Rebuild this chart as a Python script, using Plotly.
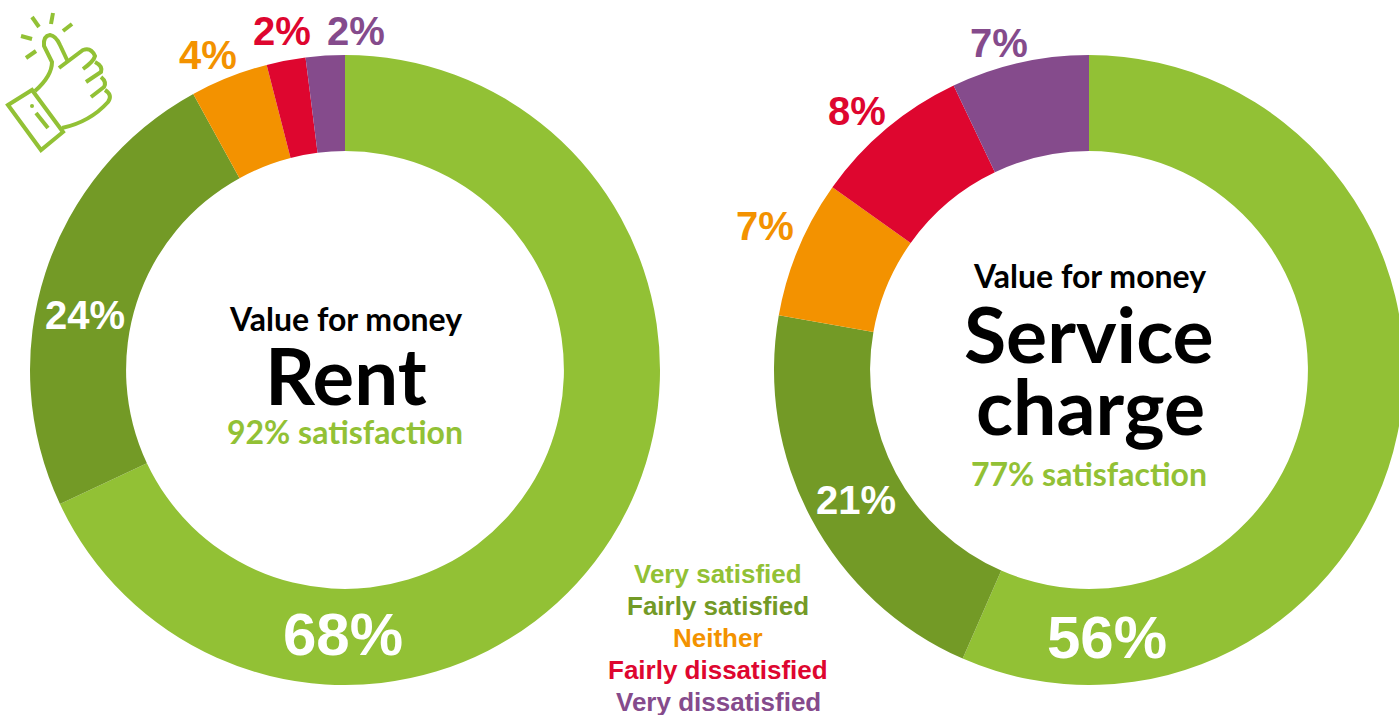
import plotly.graph_objects as go

labels = ["Very satisfied", "Fairly satisfied", "Neither", "Fairly dissatisfied", "Very dissatisfied"]
colors = ["#92C135", "#739A26", "#F39200", "#DE062F", "#854B8C"]
rent = [68, 24, 4, 2, 2]
service = [56, 21, 7, 8, 7]
W, H = 1405, 715
FONT = "Liberation Sans"
DISPLAY = "Lato"

fig = go.Figure()


def dom(cx, cy, r):
    return dict(x=[(cx - r) / W, (cx + r) / W], y=[1 - (cy + r) / H, 1 - (cy - r) / H])


for vals, cx, cy, r in [(rent, 345, 370, 315), (service, 1089, 370, 315)]:
    fig.add_trace(go.Pie(values=vals, labels=labels, hole=0.695, sort=False, direction="clockwise",
                         rotation=0, marker=dict(colors=colors, line=dict(width=0)),
                         textinfo="none", showlegend=False, domain=dom(cx, cy, r)))


def txt(x, y, s, size, color, fam=FONT):
    fig.add_annotation(x=x / W, y=1 - y / H, xref="paper", yref="paper", text=f"<b>{s}</b>",
                       showarrow=False, font=dict(size=size, color=color, family=fam), xanchor="center", yanchor="middle")


for x, y, v, i, s in [(343, 634, rent[0], 0, 60), (85, 315, rent[1], 1, 40), (208, 55, rent[2], 2, 40),
                      (282, 31, rent[3], 3, 40), (356, 31, rent[4], 4, 40),
                      (1107, 637, service[0], 0, 60), (856, 500, service[1], 1, 40), (765, 226, service[2], 2, 40),
                      (857, 111, service[3], 3, 40), (999, 43, service[4], 4, 40)]:
    c = "#FFFFFF" if i < 2 else colors[i]
    txt(x, y, f"{v}%", s, c)

txt(345, 318, "Value for money", 32, "#000000", DISPLAY)
txt(346, 375, "Rent", 78, "#000000", DISPLAY)
txt(345, 431, "92% satisfaction", 32, colors[0], DISPLAY)
txt(1089, 276, "Value for money", 32, "#000000", DISPLAY)
txt(1089, 333, "Service", 77, "#000000", DISPLAY)
txt(1090, 405, "charge", 77, "#000000", DISPLAY)
txt(1089, 473, "77% satisfaction", 32, colors[0], DISPLAY)

for k, (lab, c) in enumerate(zip(labels, colors)):
    txt(718, 574 + k * 32, lab, 26, c)


# Thumbs-up decoration, given in screen pixels
def px(x, y):
    return f"{x / W:.5f},{1 - y / H:.5f}"


icon_paths = [
    [("M", 8, 105), ("L", 32, 90), ("L", 63, 132), ("L", 41, 150), ("Z",)],
    [("M", 36, 113), ("L", 48, 128)],
    [("M", 35, 91), ("Q", 52, 76, 52, 62), ("Q", 47, 52, 44, 46), ("Q", 43, 36, 50, 35), ("Q", 56, 36, 60, 45), ("L", 68, 62)],
    [("M", 59, 68), ("L", 83, 50), ("Q", 91, 47, 95, 56), ("Q", 94, 61, 83, 69)],
    [("M", 95, 62), ("Q", 103, 66, 101, 72), ("L", 86, 82)],
    [("M", 101, 77), ("Q", 107, 82, 104, 87), ("L", 91, 97)],
    [("M", 105, 90), ("Q", 113, 95, 108, 102), ("Q", 90, 122, 62, 128)],
    [("M", 32, 17), ("L", 39, 27)],
    [("M", 53, 13), ("L", 51, 24)],
    [("M", 72, 24), ("L", 63, 31)],
    [("M", 21, 36), ("L", 32, 39)],
    [("M", 36, 51), ("L", 26, 58)],
]
for p in icon_paths:
    d = ""
    for seg in p:
        if seg[0] == "Z":
            d += " Z"
        else:
            d += f" {seg[0]} " + " ".join(px(seg[i], seg[i + 1]) for i in range(1, len(seg), 2))
    fig.add_shape(type="path", xref="paper", yref="paper", path=d.strip(),
                  line=dict(color=colors[0], width=4))
fig.add_shape(type="circle", xref="paper", yref="paper", x0=30 / W, x1=34 / W, y0=1 - 108 / H, y1=1 - 104 / H,
              fillcolor=colors[0], line=dict(width=0))

fig.update_layout(width=W, height=H, margin=dict(l=0, r=0, t=0, b=0), paper_bgcolor="white", plot_bgcolor="white")
fig.write_html("out.html", config=dict(displayModeBar=False),
               post_script="document.documentElement.style.overflow='hidden';document.body.style.overflow='hidden';document.body.style.margin='0';")
